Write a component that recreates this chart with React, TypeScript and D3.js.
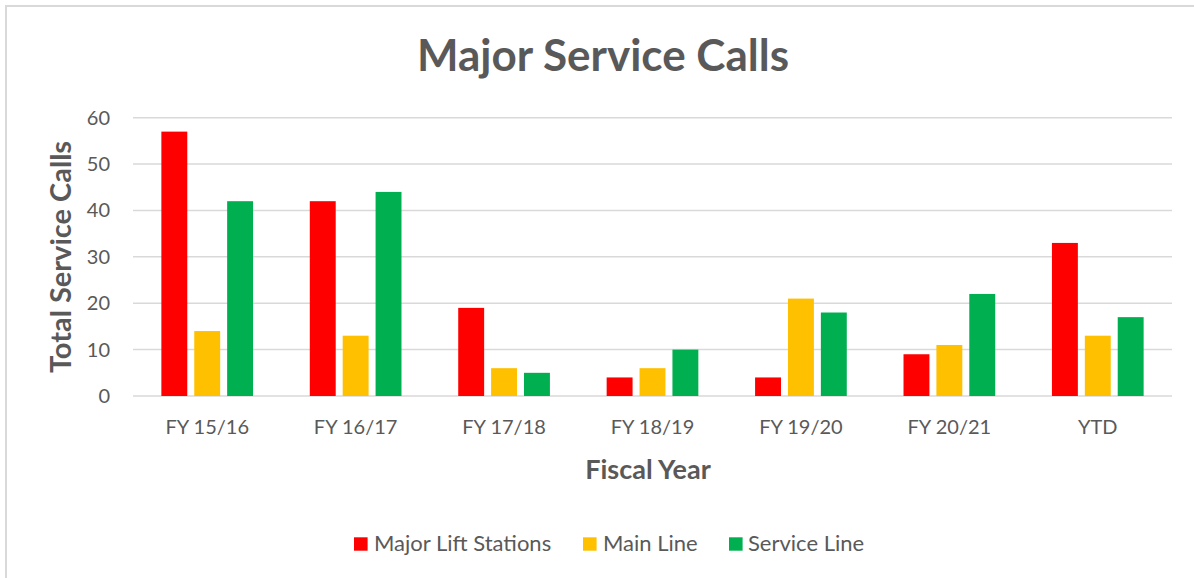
import React from "react";
import * as d3 from "d3";

const categories = ["FY 15/16", "FY 16/17", "FY 17/18", "FY 18/19", "FY 19/20", "FY 20/21", "YTD"];
const seriesNames = ["Major Lift Stations", "Main Line", "Service Line"];
const majorLiftStations = [57, 42, 19, 4, 4, 9, 33];
const mainLine = [14, 13, 6, 6, 21, 11, 13];
const serviceLine = [42, 44, 5, 10, 18, 22, 17];
const seriesColors = ["#FF0000", "#FFC000", "#00B050"];
const yTicks = [0, 10, 20, 30, 40, 50, 60];

const W = 1194;
const H = 578;
const FONT = "Lato, 'Open Sans', sans-serif";
const TEXT = "#595959";

export default function App() {
  const series = [majorLiftStations, mainLine, serviceLine];
  const plotL = 133, plotR = 1172, plotT = 117.7, plotB = 396;
  const x0 = d3.scaleBand<string>().domain(categories).range([plotL, plotR]).padding(0);
  const bw0 = x0.bandwidth();
  const grp = 91.7;
  const x1 = d3
    .scaleBand<string>()
    .domain(seriesNames)
    .range([(bw0 - grp) / 2, (bw0 + grp) / 2])
    .paddingInner(0.212)
    .paddingOuter(0);
  const y = d3.scaleLinear().domain([0, 60]).range([plotB, plotT]);

  const legendItems = [
    { name: seriesNames[0], sx: 354, tx: 374 },
    { name: seriesNames[1], sx: 583, tx: 603 },
    { name: seriesNames[2], sx: 729, tx: 748 },
  ];

  return (
    <svg
      width={W}
      height={H}
      style={{ position: "absolute", left: 0, top: 0, background: "#fff" }}
      fontFamily={FONT}
    >
      <rect x={0} y={0} width={W} height={H} fill="#fff" />
      <rect x={6} y={6} width={W + 10} height={H + 10} fill="#fff" stroke="#d9d9d9" strokeWidth={2} />
      <text x={603} y={71} textAnchor="middle" fontSize={44} fontWeight={700} fill={TEXT}>
        Major Service Calls
      </text>
      {yTicks.map((t) => (
        <g key={t}>
          <line x1={plotL} x2={plotR} y1={y(t)} y2={y(t)} stroke="#d9d9d9" strokeWidth={1.5} />
          <text x={110} y={y(t)} dy="0.35em" textAnchor="end" fontSize={20} fill={TEXT}>
            {t}
          </text>
        </g>
      ))}
      {categories.map((c, ci) => (
        <g key={c} transform={`translate(${x0(c)},0)`}>
          {series.map((s, si) => (
            <rect
              key={si}
              x={x1(seriesNames[si])}
              width={x1.bandwidth()}
              y={y(s[ci])}
              height={plotB - y(s[ci])}
              fill={seriesColors[si]}
            />
          ))}
          <text x={bw0 / 2} y={434} textAnchor="middle" fontSize={20} fill={TEXT}>
            {c}
          </text>
        </g>
      ))}
      <text x={648} y={479} textAnchor="middle" fontSize={27} fontWeight={700} fill={TEXT}>
        Fiscal Year
      </text>
      <text
        transform={`translate(71,257) rotate(-90)`}
        textAnchor="middle"
        fontSize={29}
        fontWeight={700}
        fill={TEXT}
      >
        Total Service Calls
      </text>
      {legendItems.map((l, i) => (
        <g key={l.name}>
          <rect x={l.sx} y={537.3} width={13.6} height={13.4} fill={seriesColors[i]} />
          <text x={l.tx} y={551} fontSize={22} fill={TEXT}>
            {l.name}
          </text>
        </g>
      ))}
    </svg>
  );
}
